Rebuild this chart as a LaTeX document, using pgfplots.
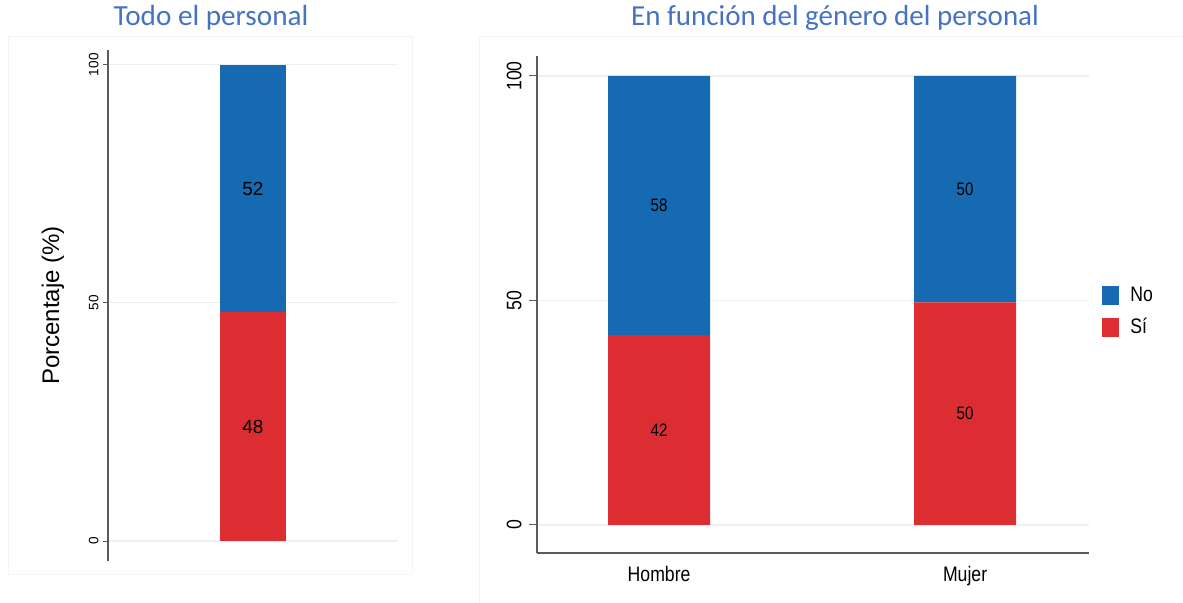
\documentclass[border=0pt]{standalone}
\usepackage{pgfplots}
\pgfplotsset{compat=1.18}
\usepackage{fontspec}
\setmainfont{Liberation Sans}
\newfontfamily\titlefont{Carlito}
\newfontfamily\narrowfont[FakeStretch=0.84]{Liberation Sans}
\definecolor{cno}{RGB}{21,106,178}
\definecolor{csi}{RGB}{220,45,50}
\definecolor{ctitle}{RGB}{68,114,196}
\definecolor{cgrid}{RGB}{232,241,244}
\definecolor{caxis}{RGB}{90,90,90}
\definecolor{cframe}{RGB}{243,245,247}
\begin{document}
\begin{tikzpicture}
\path[use as bounding box] (0,0) rectangle (591.5pt,301pt);
% faint panel frames
\draw[cframe, line width=0.5pt] (4pt,14pt) rectangle (206pt,283pt);
\draw[cframe, line width=0.5pt] (239.5pt,-1pt) -- (239.5pt,283pt) -- (592pt,283pt);
% titles
\node[font=\titlefont\fontsize{14.6}{16}\selectfont, text=ctitle] at (105.5pt,292pt) {Todo el personal};
\node[font=\titlefont\fontsize{14.5}{16}\selectfont, text=ctitle] at (417.5pt,292pt) {En función del género del personal};

% ---------- left panel ----------
\begin{axis}[
  at={(54pt,20.5pt)}, anchor=south west,
  scale only axis, width=145pt, height=255.5pt,
  xmin=0, xmax=2, ymin=-4.2, ymax=103.1,
  ybar stacked, bar width=33pt,
  axis x line=none, axis y line=left,
  y axis line style={-, draw=caxis, line width=0.8pt},
  ytick={0,50,100}, ytick pos=left, tick align=outside,
  major tick length=2.5pt,
  ytick style={draw=caxis, line width=0.5pt},
  /pgf/number format/assume math mode=true,
  yticklabel style={rotate=90, anchor=south, font=\fontsize{6.8}{7}\selectfont, inner sep=2pt},
  ymajorgrids, grid style={cgrid, line width=0.6pt},
  ylabel={Porcentaje (\%)},
  ylabel style={at={(rel axis cs:-0.19,0.5)}, anchor=center, font=\fontsize{12}{14}\selectfont},
  point meta=explicit symbolic,
  nodes near coords,
  every node near coord/.append style={anchor=center, font=\fontsize{9.5}{11}\selectfont, text=black},
]
\addplot[fill=csi, draw=none] coordinates {(1,48) [48]};
\addplot[fill=cno, draw=none] coordinates {(1,52) [52]};
\end{axis}

% ---------- right panel ----------
\begin{axis}[
  at={(268.5pt,24.5pt)}, anchor=south west,
  scale only axis, width=276pt, height=248.5pt,
  xmin=-0.399, xmax=1.405, ymin=-6.24, ymax=104.45,
  ybar stacked, bar width=51pt,
  axis x line=bottom, axis y line=left,
  axis line style={-, draw=caxis, line width=0.8pt},
  xtick={0,1}, xticklabels={Hombre,Mujer},
  xtick style={draw=none},
  xticklabel style={font=\narrowfont\fontsize{10.5}{12}\selectfont, yshift=1pt},
  ytick={0,50,100}, ytick pos=left, tick align=outside,
  major tick length=4pt,
  ytick style={draw=caxis, line width=0.5pt},
  /pgf/number format/assume math mode=true,
  yticklabel style={rotate=90, anchor=south, font=\narrowfont\fontsize{10.5}{12}\selectfont, inner sep=3.5pt},
  ymajorgrids, grid style={cgrid, line width=0.8pt},
  point meta=explicit symbolic,
  nodes near coords,
  every node near coord/.append style={anchor=center, font=\narrowfont\fontsize{9}{11}\selectfont, text=black},
  reverse legend,
  legend cell align=left,
  legend style={at={(rel axis cs:1.0236,0.485)}, anchor=west, draw=none, fill=none,
    font=\narrowfont\fontsize{10.5}{12}\selectfont, row sep=3pt, inner sep=0pt,
    /tikz/every odd column/.append style={column sep=3.5pt}},
  legend image code/.code={\fill[#1] (0pt,-4.75pt) rectangle (8.5pt,4.75pt);},
]
\addplot[fill=csi, draw=none] coordinates {(0,42.3) [42] (1,49.6) [50]};
\addlegendentry{Sí}
\addplot[fill=cno, draw=none] coordinates {(0,57.7) [58] (1,50.4) [50]};
\addlegendentry{No}
\end{axis}
\end{tikzpicture}
\end{document}
